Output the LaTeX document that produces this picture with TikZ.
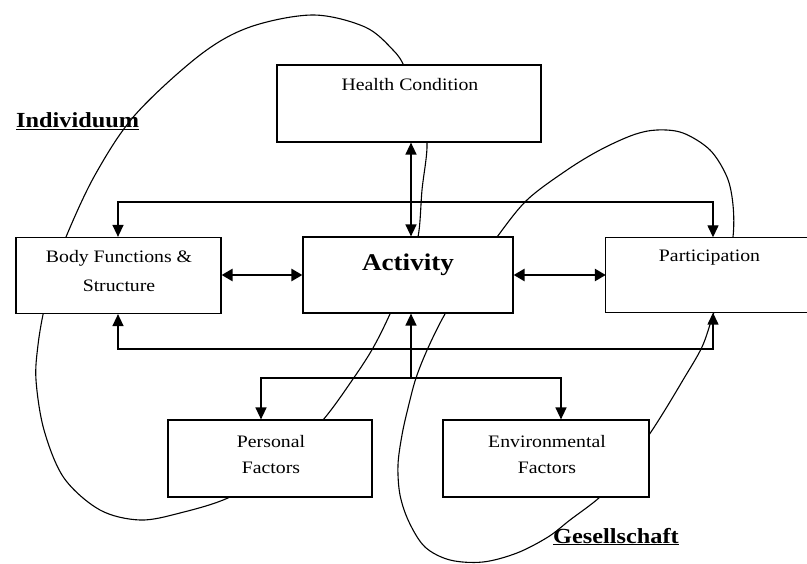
\documentclass[tikz,border=0pt]{standalone}
\usepackage{fontspec}
\setmainfont{Liberation Serif}[FakeStretch=1.13]
\usetikzlibrary{arrows.meta}
\tikzset{
  box/.style={draw, line width=1.2pt, fill=white, inner sep=0pt},
  openbox/.style={fill=white, inner sep=0pt},
  lbl/.style={font=\fontsize{17.5}{21}\selectfont, inner sep=0pt, anchor=base},
  biglbl/.style={font=\fontsize{24}{28}\selectfont\bfseries, inner sep=0pt, anchor=base},
  grouplbl/.style={font=\fontsize{21.5}{25}\selectfont\bfseries, inner sep=0pt, anchor=base west},
  conn/.style={line width=1.4pt, arrows={Triangle[length=12pt,width=11pt]-Triangle[length=12pt,width=11pt]}},
  oneconn/.style={line width=1.4pt, arrows={-Triangle[length=12pt,width=11pt]}},
  thickconn/.style={line width=2.6pt, arrows={Triangle[length=11pt,width=12pt]-Triangle[length=11pt,width=12pt]}},
  loopline/.style={line width=1.1pt}
}
\begin{document}
\begin{tikzpicture}[x=1pt, y=-1pt]
\useasboundingbox (0,0) rectangle (807,564);

% group labels
\node[grouplbl] (indiv) at (16,128) {\underline{Individuum}};
\node[grouplbl] (gesell) at (553,543) {\underline{Gesellschaft}};

% loops
\draw[loopline] plot[smooth cycle, tension=0.55] coordinates {
  (66,237) (95,175) (135,115) (200,55) (250,27) (313,15) (365,27) (393,50)
  (405,68) (418,105) (427,142) (422,190) (418,237) (405,278) (390,314)
  (373,348) (353,379) (323,420) (280,465) (230,497) (180,513) (140,520)
  (100,510) (64,478) (44,430) (36,380) (38,345) (44,310) (54,273)};
\draw[loopline] plot[smooth cycle, tension=0.55] coordinates {
  (497,237) (527,200) (567,170) (600,150) (633,135) (657,130) (683,133)
  (710,150) (727,177) (733,205) (733,237) (725,278) (713,315) (702,347)
  (683,380) (665,410) (649,435) (625,470) (600,497) (570,520) (548,537)
  (517,553) (483,562) (450,560) (425,547) (409,522) (400,495) (398,465)
  (402,435) (408,408) (416,378) (428,348) (445,314) (470,275)};

% boxes
\node[box, minimum width=264pt, minimum height=77pt] (health) at (409,103.5) {};
\node[box, minimum width=205pt, minimum height=76pt] (body) at (118.5,275.5) {};
\node[box, minimum width=210pt, minimum height=76pt] (act) at (408,275) {};
\node[openbox, minimum width=201pt, minimum height=75pt] (part) at (706.5,275) {};
\draw[line width=1.2pt] (part.north east) -- (part.north west) -- (part.south west) -- (part.south east);
\node[box, minimum width=204pt, minimum height=77pt] (pers) at (270,458.5) {};
\node[box, minimum width=206pt, minimum height=77pt] (env) at (546,458.5) {};

% texts
\node[lbl] (thc) at (410,91) {Health Condition};
\node[lbl] (tbody1) at (119,263) {Body Functions \&};
\node[lbl] (tbody2) at (119,292) {Structure};
\node[biglbl] (tact) at (408,271) {Activity};
\node[lbl] (tpart) at (709.5,262) {Participation};
\node[lbl] (tpers1) at (271,447) {Personal};
\node[lbl] (tpers2) at (271,473) {Factors};
\node[lbl] (tenv1) at (547,447) {Environmental};
\node[lbl] (tenv2) at (547,473) {Factors};

% connector corner points
\coordinate (hcx) at (411,0);
\coordinate (tl) at (118,202);
\coordinate (tr) at (713,202);
\coordinate (bl) at (118,349);
\coordinate (br) at (713,349);
\coordinate (bm) at (411,378);
\coordinate (fl) at (261,378);
\coordinate (fr) at (561,378);

% connectors
\draw[conn] (health.south -| hcx) -- (act.north -| hcx);
\draw[thickconn] (body.east |- act.west) -- (act.west);
\draw[thickconn] (act.east) -- (part.west);
\draw[conn] (body.north -| tl) -- (tl) -- (tr) -- (part.north -| tr);
\draw[conn] (body.south -| bl) -- (bl) -- (br) -- (part.south -| br);
\draw[oneconn] (bm) -- (act.south -| bm);
\draw[conn] (pers.north -| fl) -- (fl) -- (fr) -- (env.north -| fr);
\end{tikzpicture}
\end{document}
